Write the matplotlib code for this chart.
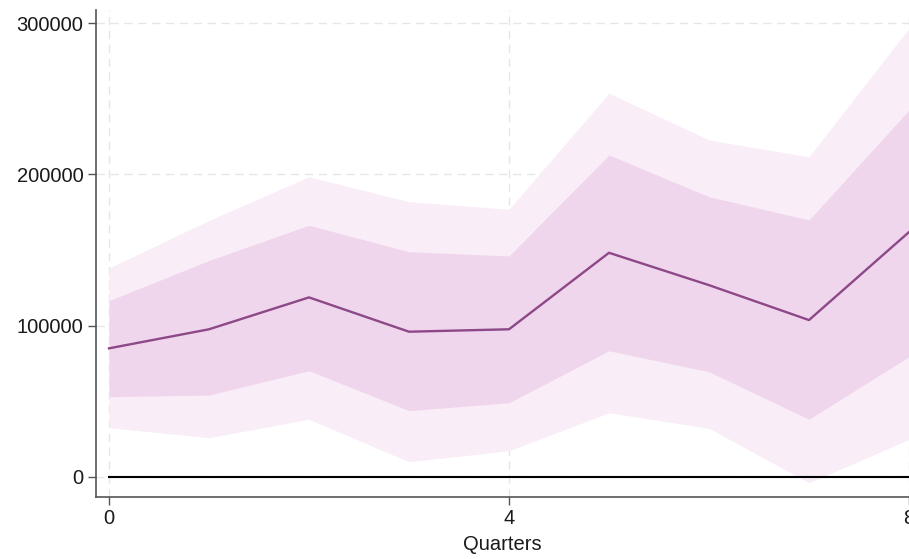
import numpy as np
import matplotlib.pyplot as plt

plt.rcParams['font.family'] = ['Liberation Sans', 'DejaVu Sans']

quarters = [0, 1, 2, 3, 4, 5, 6, 7, 8]
irf = [84900, 97500, 118600, 95900, 97500, 148100, 126700, 103600, 161800]
ci68_hi = [116400, 143000, 166300, 148800, 146000, 212800, 185200, 169800, 242500]
ci68_lo = [52900, 54000, 70100, 43700, 48900, 83300, 69400, 38000, 79400]
ci90_hi = [138000, 169500, 198400, 181900, 176900, 253600, 222700, 211600, 296600]
ci90_lo = [32400, 25800, 38000, 9900, 17200, 42300, 32000, -4000, 24700]

fig = plt.figure(figsize=(9.09, 5.59), dpi=100)
ax = fig.add_axes([0.1056, 0.1115, 0.8944, 0.8707])

ax.fill_between(quarters, ci90_lo, ci90_hi, color='#f9edf7', lw=0, zorder=2)
ax.fill_between(quarters, ci68_lo, ci68_hi, color='#f0d6ec', lw=0, zorder=3)
ax.plot(quarters, irf, color='#8c4887', lw=1.7, zorder=5)
ax.plot(quarters, np.zeros(len(quarters)), color='black', lw=1.5, zorder=4)

ax.set_xlim(-0.13, 8.0)
ax.set_ylim(-13200, 308700)
ax.set_xticks([0, 4, 8])
ax.set_yticks([0, 100000, 200000, 300000])
ax.set_yticklabels(['0', '100000', '200000', '300000'])

ax.grid(True, color='#e6e6e6', linestyle=(0, (6, 4)), lw=1.0, zorder=1)
ax.set_axisbelow(True)

for side in ['top', 'right']:
    ax.spines[side].set_visible(False)
for side in ['left', 'bottom']:
    ax.spines[side].set_color('#555555')
    ax.spines[side].set_linewidth(1.2)

ax.tick_params(axis='both', direction='out', length=6, width=1.0, color='#555555',
               labelsize=14.5, labelcolor='#1a1a1a', pad=3)

ax.set_xlabel('Quarters', fontsize=14.5, color='#1a1a1a', labelpad=5)

fig.savefig('out.png', dpi=100)
